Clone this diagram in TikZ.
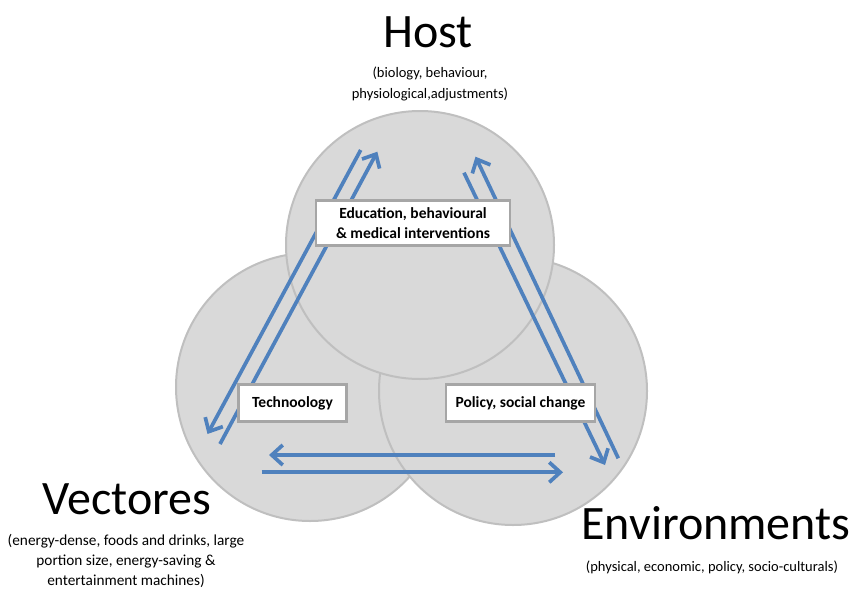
\documentclass[tikz,border=0pt]{standalone}
\usepackage{fontspec}
\setmainfont{Carlito}
\usetikzlibrary{arrows.meta}
\definecolor{circfill}{HTML}{D9D9D9}
\definecolor{circline}{HTML}{BFBFBF}
\definecolor{arrowblue}{HTML}{4F81BD}
\definecolor{boxline}{HTML}{A6A6A6}

\begin{document}
\begin{tikzpicture}[x=1pt,y=-1pt,
  ring/.style={fill=circfill, draw=circline, line width=2pt},
  flow/.style={draw=arrowblue, line width=3.7pt},
  flowhead/.style={flow, -{Straight Barb[length=11pt,width=20pt,line width=3.7pt]}},
  labelbox/.style={fill=white, draw=boxline, line width=2.5pt, font=\bfseries\fontsize{15.5}{19.5}\selectfont,
    align=center, inner sep=0pt},
  title/.style={font=\fontsize{48}{56}\selectfont, anchor=base, inner sep=0pt},
  subtitle/.style={font=\fontsize{14.5}{21}\selectfont, align=center, anchor=base, inner sep=0pt}
]
\useasboundingbox (0,0) rectangle (856,589);

% three overlapping circles
\draw[ring] (310,387) circle[radius=134];
\draw[ring] (513,391) circle[radius=134];
\draw[ring] (420,245) circle[radius=134];

% arrow end points
\coordinate (a1) at (360.7,150);   \coordinate (a2) at (207.5,434);
\coordinate (b1) at (220,444);     \coordinate (b2) at (377.3,151.7);
\coordinate (c1) at (464,172.7);   \coordinate (c2) at (605,465);
\coordinate (d1) at (618.3,458.3); \coordinate (d2) at (475.5,156.7);
\coordinate (e1) at (555,455);     \coordinate (e2) at (269,455);
\coordinate (f1) at (261.7,472.3); \coordinate (f2) at (563,472.3);

\draw[flowhead] (a1) -- (a2);
\draw[flowhead] (b1) -- (b2);
\draw[flowhead] (c1) -- (c2);
\draw[flowhead] (d1) -- (d2);
\draw[flowhead] (e1) -- (e2);
\draw[flowhead] (f1) -- (f2);

% intervention boxes
\node[labelbox, minimum width=194pt, minimum height=45pt] (edu) at (413,223)
  {Education, behavioural\\ \& medical interventions};
\node[labelbox, minimum width=108pt, minimum height=37pt] (tech) at (292.5,403) {Technoology};
\node[labelbox, minimum width=149pt, minimum height=37pt] (pol) at (520.5,403) {Policy, social change};

% titles and descriptions (base anchor sits on the last line)
\node[title] (host) at (428,47) {Host};
\node[subtitle] (hostsub) at (430,98) {(biology, behaviour,\\physiological,adjustments)};

\node[title] (vec) at (127,514) {Vectores};
\node[subtitle, font=\fontsize{15.3}{20}\selectfont] (vecsub) at (126,585)
  {(energy-dense, foods and drinks, large\\portion size, energy-saving \&\\entertainment machines)};

\node[title] (env) at (716,539) {Environments};
\node[subtitle] (envsub) at (712,571) {(physical, economic, policy, socio-culturals)};
\end{tikzpicture}
\end{document}
